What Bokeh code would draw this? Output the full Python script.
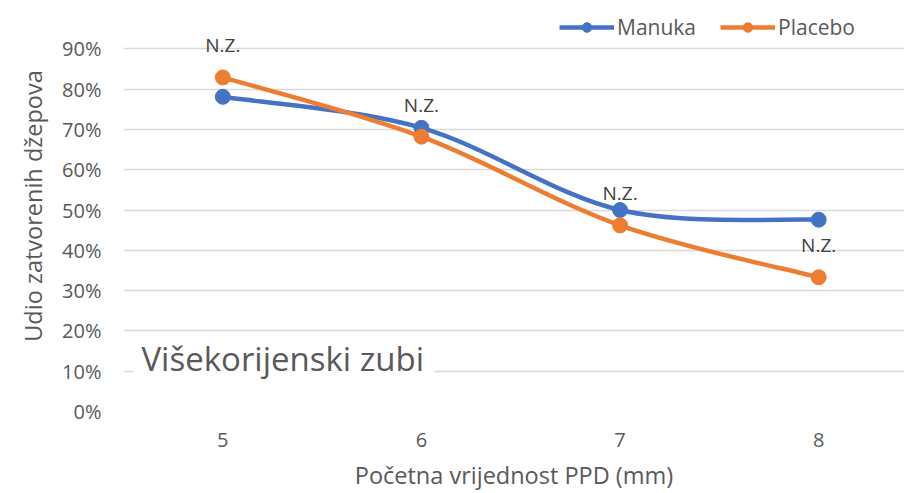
import numpy as np
from bokeh.plotting import figure
from bokeh.models import Range1d, FixedTicker, Legend, LegendItem, Label, NumeralTickFormatter, ColumnDataSource
from bokeh.core.properties import value
from bokeh.embed import file_html
from bokeh.resources import INLINE

ppd = [5, 6, 7, 8]
manuka = [0.781, 0.704, 0.500, 0.476]
placebo = [0.829, 0.682, 0.462, 0.333]
nz_labels = ["N.Z.", "N.Z.", "N.Z.", "N.Z."]
y_ticks = [0, 0.1, 0.2, 0.3, 0.4, 0.5, 0.6, 0.7, 0.8, 0.9]

FONT = "Open Sans"
GREY = "#595959"

p = figure(width=904, height=493, output_backend="svg", toolbar_location=None,
           x_range=Range1d(4.5, 8.432), y_range=Range1d(0, 1.02),
           min_border_left=123, min_border_right=0, min_border_top=0, min_border_bottom=0)
p.outline_line_color = None
p.background_fill_color = "white"

def smooth_segments(xs, ys):
    xs = np.asarray(xs, float); ys = np.asarray(ys, float)
    n = len(xs)
    d = dict(x0=[], y0=[], x1=[], y1=[], cx0=[], cy0=[], cx1=[], cy1=[])
    for i in range(n - 1):
        ip = max(i - 1, 0); inx = min(i + 2, n - 1)
        d["x0"].append(xs[i]); d["y0"].append(ys[i])
        d["x1"].append(xs[i + 1]); d["y1"].append(ys[i + 1])
        d["cx0"].append(xs[i] + (xs[i + 1] - xs[ip]) / 6)
        d["cy0"].append(ys[i] + (ys[i + 1] - ys[ip]) / 6)
        d["cx1"].append(xs[i + 1] - (xs[inx] - xs[i]) / 6)
        d["cy1"].append(ys[i + 1] - (ys[inx] - ys[i]) / 6)
    return ColumnDataSource(d)

colors = {"Manuka": "#4472C4", "Placebo": "#ED7D31"}
leg_items = []
for name, vals in [("Manuka", manuka), ("Placebo", placebo)]:
    c = colors[name]
    p.bezier(x0="x0", y0="y0", x1="x1", y1="y1", cx0="cx0", cy0="cy0", cx1="cx1", cy1="cy1",
             source=smooth_segments(ppd, vals), line_color=c, line_width=4.5)
    sc = p.scatter(ppd, vals, size=15, color=c)
    proxy = p.line([float("nan")], [float("nan")], line_color=c, line_width=4.5)
    leg_items.append(LegendItem(label=name, renderers=[proxy, sc]))

p.text(x=ppd, y=placebo, text=nz_labels, y_offset=-32, text_align="center", text_baseline="middle",
       text_font=value(FONT), text_font_size="19px", text_color="#404040")

legend = Legend(items=leg_items, orientation="horizontal",
                label_text_font=FONT, label_text_font_size="21px", label_text_color=GREY,
                glyph_width=55, glyph_height=24, label_standoff=3, spacing=24,
                border_line_color=None, background_fill_alpha=0, margin=0, padding=2)
legend.location = (436, 370)
p.add_layout(legend)

p.add_layout(Label(x=4.55, y=0.131, text="Višekorijenski zubi", text_baseline="middle",
                   text_font=FONT, text_font_size="33px", text_color=GREY,
                   background_fill_color="white",
                   padding=dict(left=8, right=10, top=0, bottom=0)))

p.xaxis.ticker = FixedTicker(ticks=ppd)
p.yaxis.ticker = FixedTicker(ticks=y_ticks)
p.yaxis.formatter = NumeralTickFormatter(format="0%")
for ax in [p.xaxis[0], p.yaxis[0]]:
    ax.axis_line_color = None
    ax.major_tick_line_color = None
    ax.minor_tick_line_color = None
    ax.major_label_text_font = FONT
    ax.major_label_text_font_size = "20px"
    ax.major_label_text_color = GREY
    ax.axis_label_text_font = FONT
    ax.axis_label_text_font_size = "23.5px"
    ax.axis_label_text_color = GREY
    ax.axis_label_text_font_style = "normal"
p.xaxis.axis_label = "Početna vrijednost PPD (mm)"
p.yaxis.axis_label = "Udio zatvorenih džepova"
p.xaxis.major_label_standoff = 15
p.xaxis.axis_label_standoff = 9
p.yaxis.major_label_standoff = 16
p.yaxis.axis_label_standoff = 10

p.xgrid.grid_line_color = None
p.ygrid.grid_line_color = "#D9D9D9"
p.ygrid.grid_line_width = 1.5

open("out.html", "w").write(file_html(p, INLINE))
